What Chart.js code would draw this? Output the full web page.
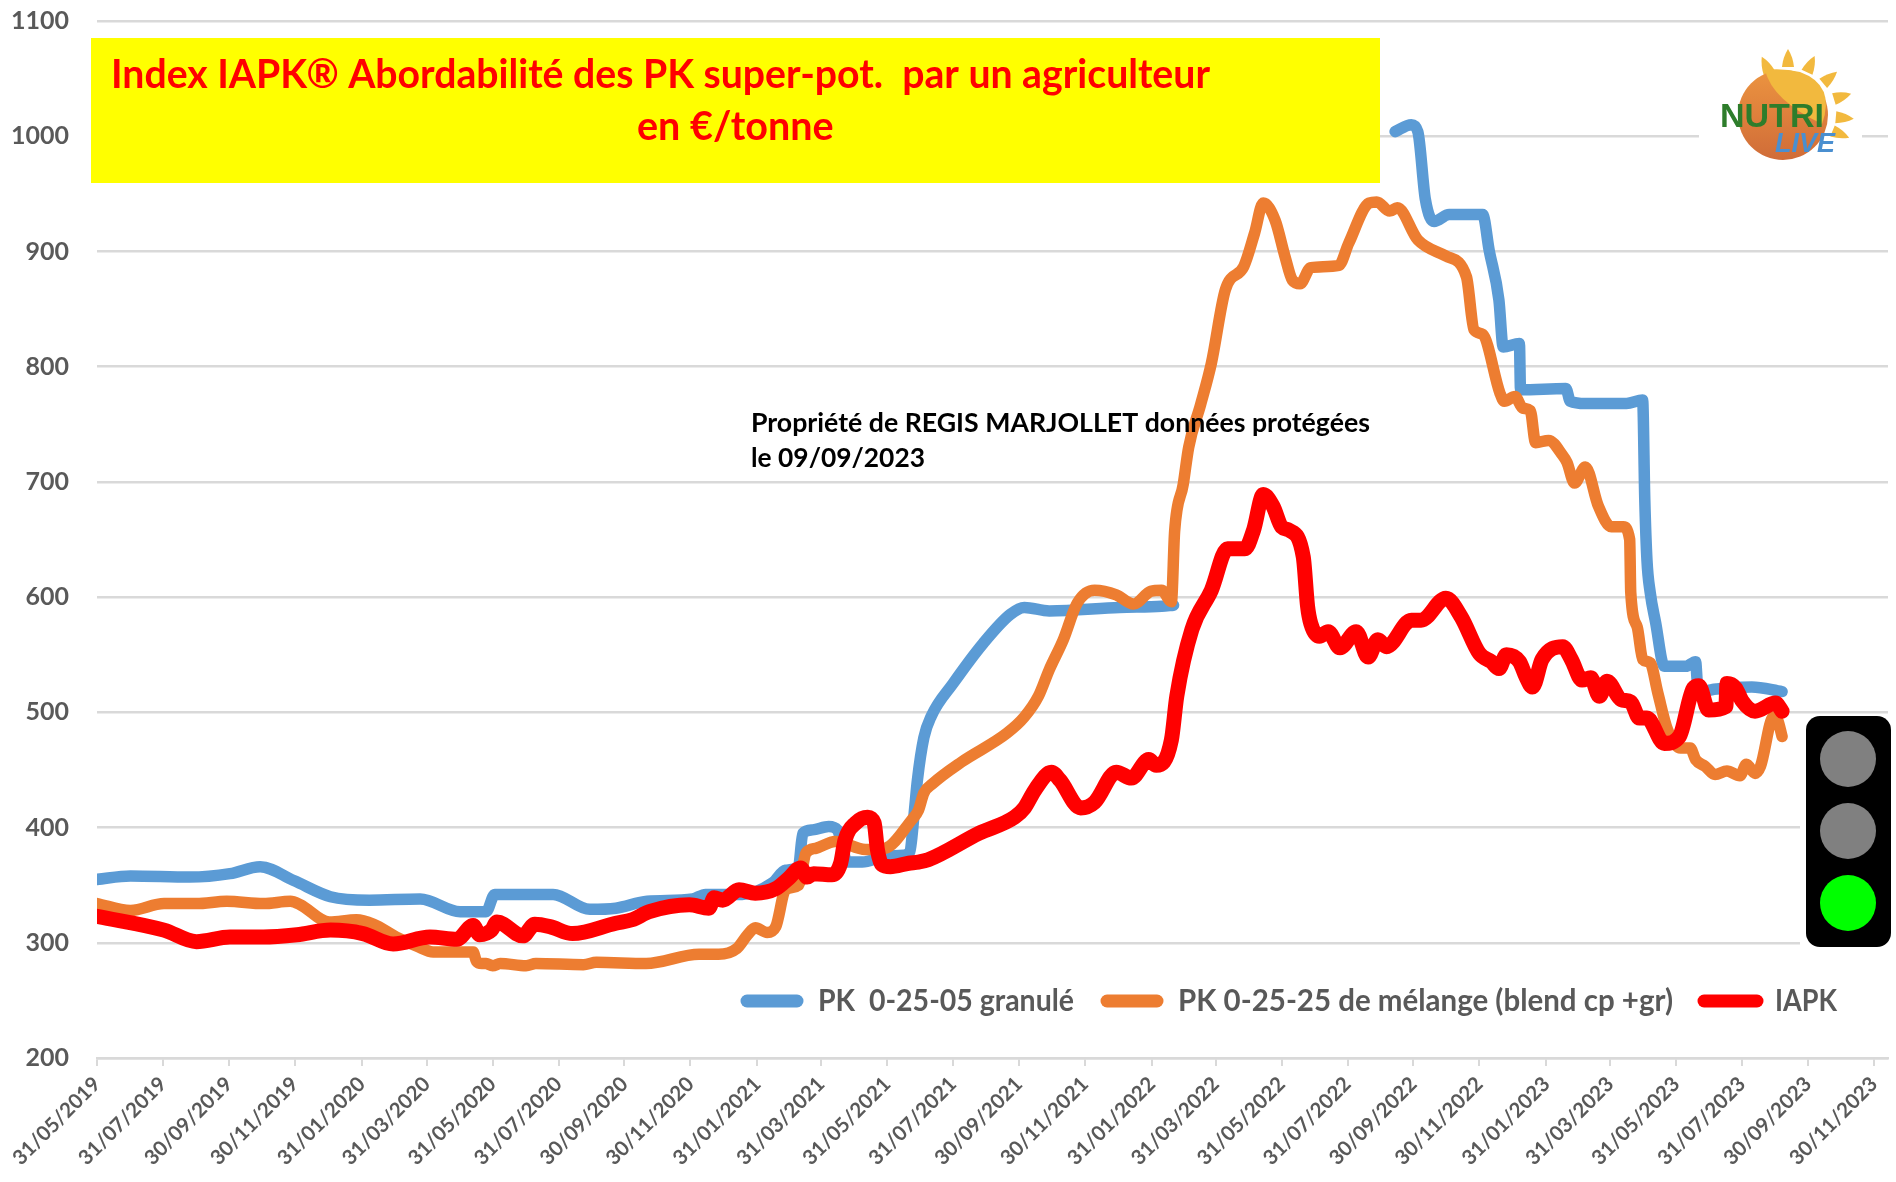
<!DOCTYPE html>
<html lang="fr"><head><meta charset="utf-8"><title>Index IAPK</title>
<style>html,body{margin:0;padding:0;background:#fff}canvas{display:block}</style>
<script src="https://cdn.jsdelivr.net/npm/chart.js@4"></script></head>
<body><canvas id="c" width="1896" height="1182"></canvas>
<script>
const tickLabels = ["31/05/2019","31/07/2019","30/09/2019","30/11/2019","31/01/2020","31/03/2020","31/05/2020","31/07/2020","30/09/2020","30/11/2020","31/01/2021","31/03/2021","31/05/2021","31/07/2021","30/09/2021","30/11/2021","31/01/2022","31/03/2022","31/05/2022","31/07/2022","30/09/2022","30/11/2022","31/01/2023","31/03/2023","31/05/2023","31/07/2023","30/09/2023","30/11/2023"];
const seriesNames = ["PK  0-25-05 granulé","PK 0-25-25 de mélange (blend cp +gr)","IAPK"];

// x = days since 31/05/2019, y = €/tonne; null marks the stretch where the line is not visible
const blueDays = [0,31,86,123,151,182,216,252,299,336,360,368,422,456,480,509,551,563,597,625,637,649,653,662,677,685,689,694,708,729,746,752,756,759,765,772,792,820,845,858,881,946,985,996,1100,1201,1216,1222,1229,1237,1251,1282,1288,1297,1301,1316,1317,1359,1363,1377,1415,1430,1432,1434,1437,1442,1450,1470,1479,1481,1490,1496,1531,1559];
const blueValues = [355,358,357,360,366,354,340,337,338,327,327,342,342,329,330,336,338,342,342,352,363,366,395,398,401,398,386,370,370,375,376,379,412,441,478,497,525,560,585,591,588,591,592,593,null,1004,1010,1004,945,926,932,932,901,858,817,820,780,781,770,768,768,771,684,632,604,578,540,540,544,522,519,520,522,518];

const orangeDays = [0,31,62,92,120,154,179,188,215,240,256,277,296,311,348,351,356,360,366,373,397,406,450,462,508,557,575,592,602,609,620,628,637,649,656,665,683,711,729,754,760,765,773,800,842,858,871,881,894,907,923,943,959,975,985,994,997,1005,1010,1021,1031,1044,1061,1071,1079,1090,1099,1106,1113,1123,1149,1158,1177,1184,1196,1203,1222,1248,1267,1274,1282,1298,1302,1312,1319,1326,1331,1343,1356,1360,1367,1377,1389,1401,1412,1418,1419,1425,1430,1437,1444,1453,1465,1474,1479,1488,1497,1508,1520,1526,1534,1539,1551,1555,1559];
const orangeValues = [334,328,334,334,336,334,336,333,318,320,316,305,297,292,292,284,282,282,280,282,280,282,281,283,282,290,290,295,307,313,309,314,346,350,378,382,388,381,382,407,415,430,438,457,482,496,514,537,563,595,606,602,594,605,606,596,657,698,730,767,803,867,887,916,942,927,896,875,872,886,888,907,942,943,935,938,910,896,878,832,828,777,770,774,764,762,734,736,723,717,699,713,679,661,661,650,604,574,546,543,517,485,469,469,459,453,446,449,445,455,447,453,496,493,479];

const redDays = [0,62,92,123,154,185,216,246,274,308,333,348,354,365,370,394,405,419,440,480,495,511,548,566,571,579,594,609,628,640,651,657,663,680,688,692,702,713,719,722,726,734,751,760,769,816,849,858,868,883,891,910,923,943,957,973,980,994,999,1013,1031,1046,1062,1070,1079,1088,1096,1103,1116,1120,1123,1131,1139,1150,1165,1176,1185,1193,1216,1225,1248,1262,1279,1290,1297,1304,1316,1322,1328,1337,1356,1364,1374,1382,1390,1397,1410,1419,1427,1434,1450,1464,1477,1482,1491,1507,1508,1516,1522,1534,1553,1559];
const redValues = [323,311,301,305,305,307,311,308,299,305,303,315,307,311,318,306,316,314,308,317,320,327,333,330,339,337,346,343,347,356,365,357,360,359,369,389,404,409,404,381,368,366,369,370,372,395,409,417,433,448,441,417,422,448,443,459,454,476,514,572,606,642,642,658,689,679,661,658,635,592,577,566,570,556,570,548,563,557,580,580,599,583,551,544,538,550,544,531,522,546,557,546,528,530,514,527,511,509,495,495,473,479,521,523,502,505,525,521,510,501,508,501];

const tickDays = tickLabels.map(s => { const [d,m,y] = s.split('/').map(Number); return Math.round((Date.UTC(y,m-1,d)-Date.UTC(2019,4,31))/864e5); });
const pts = (xs,ys) => xs.map((x,i)=>({x,y:ys[i]}));
const FONT = 'Lato, "Open Sans", sans-serif';
const GREY = '#595959';

const decor = {
  id:'decor',
  afterDraw(chart){
    const c = chart.ctx; c.save();
    // title box
    c.fillStyle='#ffff00'; c.fillRect(91,38,1289,145);
    c.fillStyle='#ff0000'; c.textBaseline='alphabetic'; c.textAlign='left';
    c.font='bold 39.5px '+FONT;
    c.fillText('Index IAPK® Abordabilité des PK super-pot.  par un agriculteur',111,88,1099);
    c.fillText('en €/tonne',637,140,197);
    // note
    c.fillStyle='#000'; c.font='bold 26.7px '+FONT;
    c.fillText('Propriété de REGIS MARJOLLET données protégées',751,432,619);
    c.fillText('le 09/09/2023',751,467,174);
    // legend
    const items=[[741,803,818,256],[1101,1163,1178,495],[1698,1763,1775,62]];
    chart.data.datasets.forEach((ds,i)=>{
      const [a,b,t,w]=items[i];
      c.strokeStyle=ds.borderColor; c.lineWidth=13; c.lineCap='round';
      c.beginPath(); c.moveTo(a+6,1001); c.lineTo(b-6,1001); c.stroke();
      c.fillStyle=GREY; c.font='bold 29.5px '+FONT; c.fillText(ds.label,t,1011,w);
    });
    // traffic light
    c.fillStyle='#fff'; c.fillRect(1800,716,96,250);
    c.fillStyle='#000'; c.beginPath(); c.roundRect(1806,716,85,231,14); c.fill();
    [[759,'#808080'],[831,'#808080'],[903,'#00ff00']].forEach(([y,col])=>{c.fillStyle=col;c.beginPath();c.arc(1848,y,28,0,7);c.fill();});
    // logo
    c.fillStyle='#fff'; c.fillRect(1699,48,163,124);
    c.fillStyle='#f2b93e';
    [[-90,46],[-65,45],[-40,46],[-17,48],[5,48],[22,48],[-115,44]].forEach(([a,r0])=>{
      c.save(); c.translate(1788,113); c.rotate(a*Math.PI/180);
      c.beginPath(); c.moveTo(r0,-6); c.quadraticCurveTo(r0+10,-5,r0+18,0); c.quadraticCurveTo(r0+10,5,r0,6); c.closePath(); c.fill(); c.restore();
    });
    const g=c.createLinearGradient(0,70,0,160); g.addColorStop(0,'#ec9440'); g.addColorStop(1,'#d06c38');
    c.fillStyle=g; c.beginPath(); c.arc(1783,115,45,0,7); c.fill();
    c.fillStyle='#f2b93e';
    c.beginPath(); c.moveTo(1765,70); c.quadraticCurveTo(1772,100,1822,124); c.quadraticCurveTo(1836,85,1800,72); c.quadraticCurveTo(1782,68,1765,70); c.fill();
    c.fillStyle='#2e7d2b'; c.font='bold 34px "Liberation Sans", sans-serif'; c.fillText('NUTRI',1720,127,108);
    c.fillStyle='#4a8fd0'; c.font='italic bold 27px "Liberation Sans", sans-serif'; c.fillText('LIVE',1775,152,78);
    c.restore();
  }
};

const ds = (i,days,vals,color,width,order)=>({label:seriesNames[i],data:pts(days,vals),borderColor:color,backgroundColor:color,borderWidth:width,order,pointRadius:0,cubicInterpolationMode:'monotone',borderCapStyle:'round',borderJoinStyle:'round',spanGaps:false,parsing:false});

new Chart(document.getElementById('c'),{
  type:'line',
  data:{datasets:[
    ds(0,blueDays,blueValues,'#5b9bd5',11.5,3),
    ds(1,orangeDays,orangeValues,'#ed7d31',11.5,2),
    ds(2,redDays,redValues,'#ff0000',15,1)
  ]},
  options:{
    responsive:false,animation:false,normalized:true,
    layout:{padding:{top:21,right:8,left:0,bottom:0}},
    plugins:{legend:{display:false},title:{display:false},tooltip:{enabled:false}},
    scales:{
      x:{type:'linear',min:0,max:1657,
        afterBuildTicks(s){s.ticks=tickDays.map(v=>({value:v}));},
        afterFit(s){s.height=124;s.paddingLeft=0;s.paddingRight=0;},
        border:{color:'#d9d9d9',width:2.5},
        grid:{drawOnChartArea:false,drawTicks:true,tickLength:8,color:'#d9d9d9',lineWidth:2},
        ticks:{autoSkip:false,minRotation:45,maxRotation:45,padding:6,color:GREY,font:{family:FONT,weight:'bold',size:20.5},
          callback:(v,i)=>tickLabels[i]}
      },
      y:{type:'linear',min:200,max:1100,
        afterFit(s){s.width=97;s.paddingTop=0;s.paddingBottom=0;},
        border:{display:false},
        grid:{color:'#d9d9d9',lineWidth:2.5,drawTicks:false},
        ticks:{stepSize:100,padding:28,color:GREY,font:{family:FONT,weight:'bold',size:25},callback:v=>String(v)}
      }
    }
  },
  plugins:[decor]
});
</script></body></html>
